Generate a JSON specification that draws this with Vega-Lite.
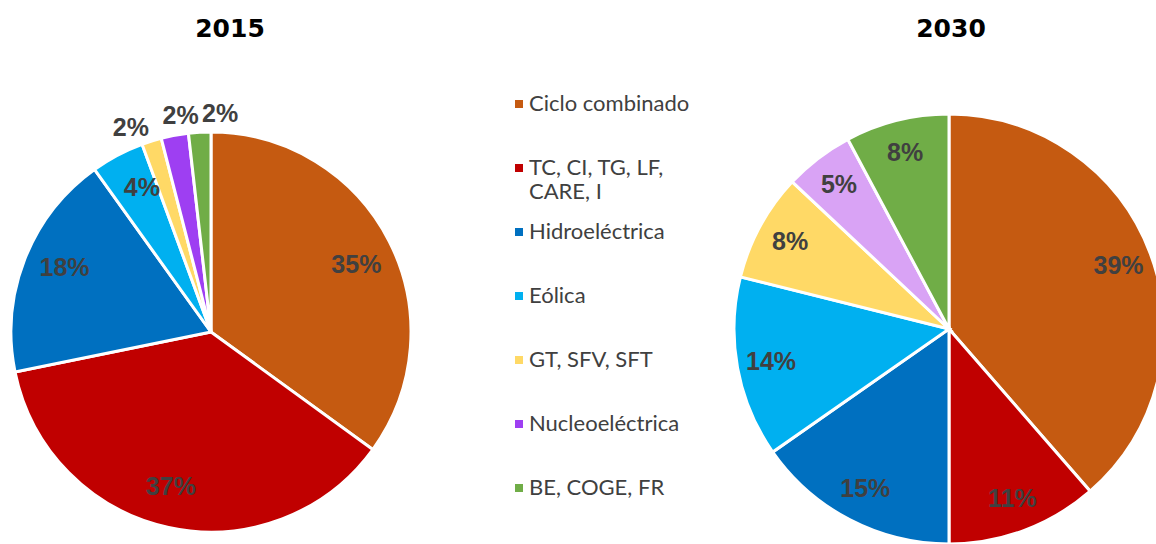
{
  "$schema": "https://vega.github.io/schema/vega-lite/v6.json",
  "background": "white",
  "padding": {"left": 0, "top": 17, "right": 0, "bottom": 0},
  "config": {"view": {"stroke": null}, "font": "Liberation Sans"},
  "data": {"values": [
    {"year": 2015, "k": 1, "category": "Ciclo combinado", "value": 35.0, "label": "35%"},
    {"year": 2015, "k": 2, "category": "TC, CI, TG, LF, CARE, I", "value": 36.8, "label": "37%"},
    {"year": 2015, "k": 3, "category": "Hidroeléctrica", "value": 18.3, "label": "18%"},
    {"year": 2015, "k": 4, "category": "Eólica", "value": 4.3, "label": "4%"},
    {"year": 2015, "k": 5, "category": "GT, SFV, SFT", "value": 1.6, "label": "2%"},
    {"year": 2015, "k": 6, "category": "Nucleoeléctrica", "value": 2.2, "label": "2%"},
    {"year": 2015, "k": 7, "category": "BE, COGE, FR", "value": 1.8, "label": "2%"},
    {"year": 2030, "k": 1, "category": "Ciclo combinado", "value": 38.6, "label": "39%"},
    {"year": 2030, "k": 2, "category": "TC, CI, TG, LF, CARE, I", "value": 11.4, "label": "11%"},
    {"year": 2030, "k": 3, "category": "Hidroeléctrica", "value": 15.3, "label": "15%"},
    {"year": 2030, "k": 4, "category": "Eólica", "value": 13.6, "label": "14%"},
    {"year": 2030, "k": 5, "category": "GT, SFV, SFT", "value": 8.1, "label": "8%"},
    {"year": 2030, "k": 6, "category": "Nucleoeléctrica", "value": 5.2, "label": "5%"},
    {"year": 2030, "k": 7, "category": "BE, COGE, FR", "value": 7.8, "label": "8%"}
  ]},
  "resolve": {"scale": {"theta": "independent"}},
  "spacing": 306,
  "hconcat": [
    {
      "width": 422,
      "height": 436,
      "title": {"text": "2015", "fontSize": 25, "fontWeight": "bold", "font": "DejaVu Sans", "color": "#000000", "offset": 60, "dx": 19, "anchor": "middle"},
      "transform": [{"filter": "datum.year === 2015"}],
      "encoding": {
        "theta": {"field": "value", "type": "quantitative", "stack": true},
        "order": {"field": "k", "type": "quantitative"}
      },
      "layer": [
        {
          "mark": {"type": "arc", "radius": 200, "stroke": "white", "strokeWidth": 3},
          "encoding": {
            "color": {
              "field": "category", "type": "nominal",
              "scale": {
                "domain": ["Ciclo combinado", "TC, CI, TG, LF, CARE, I", "Hidroeléctrica", "Eólica", "GT, SFV, SFT", "Nucleoeléctrica", "BE, COGE, FR"],
                "range": ["#C55A11", "#C00000", "#0070C0", "#00B0F0", "#FFD966", "#9E3FF2", "#70AD47"]
              },
              "legend": {
                "orient": "none", "legendX": 508, "legendY": -21, "title": null,
                "symbolType": "square", "symbolSize": 64, "symbolStrokeWidth": 0,
                "labelFont": "Lato", "labelFontSize": 22, "labelColor": "#404040",
                "labelLimit": 400, "labelOffset": -1, "rowPadding": 18,
                "labelExpr": "datum.label === 'TC, CI, TG, LF, CARE, I' ? ['TC, CI, TG, LF,', 'CARE, I'] : [datum.label, '']",
                "encode": {"labels": {"update": {"lineHeight": {"value": 26}}}}
              }
            }
          }
        },
        {
          "mark": {"type": "text", "radius": 160, "thetaOffset": 0.04, "fontSize": 25, "fontWeight": "bold", "fill": "#404040", "font": "Liberation Sans"},
          "encoding": {"text": {"condition": {"test": "datum.value >= 3", "field": "label"}, "value": ""}}
        },
        {
          "mark": {"type": "text", "radius": 219, "thetaOffset": -0.073, "fontSize": 25, "fontWeight": "bold", "fill": "#404040", "font": "Liberation Sans"},
          "encoding": {"text": {"condition": {"test": "datum.category === 'GT, SFV, SFT'", "field": "label"}, "value": ""}}
        },
        {
          "mark": {"type": "text", "radius": 218, "thetaOffset": 0.042, "fontSize": 25, "fontWeight": "bold", "fill": "#404040", "font": "Liberation Sans"},
          "encoding": {"text": {"condition": {"test": "datum.category === 'Nucleoeléctrica'", "field": "label"}, "value": ""}}
        },
        {
          "mark": {"type": "text", "radius": 218, "thetaOffset": 0.098, "fontSize": 25, "fontWeight": "bold", "fill": "#404040", "font": "Liberation Sans"},
          "encoding": {"text": {"condition": {"test": "datum.category === 'BE, COGE, FR'", "field": "label"}, "value": ""}}
        }
      ]
    },
    {
      "width": 430,
      "height": 430,
      "title": {"text": "2030", "fontSize": 25, "fontWeight": "bold", "font": "DejaVu Sans", "color": "#000000", "offset": 66, "dx": 2, "anchor": "middle"},
      "transform": [{"filter": "datum.year === 2030"}],
      "encoding": {
        "theta": {"field": "value", "type": "quantitative", "stack": true},
        "order": {"field": "k", "type": "quantitative"}
      },
      "layer": [
        {
          "mark": {"type": "arc", "radius": 215, "stroke": "white", "strokeWidth": 3},
          "encoding": {
            "color": {
              "condition": {"test": "datum.category === 'Nucleoeléctrica'", "value": "#D9A3F5"},
              "field": "category", "type": "nominal"
            }
          }
        },
        {
          "mark": {"type": "text", "radius": 181, "fontSize": 25, "fontWeight": "bold", "fill": "#404040", "font": "Liberation Sans"},
          "encoding": {"text": {"field": "label"}}
        }
      ]
    }
  ]
}
